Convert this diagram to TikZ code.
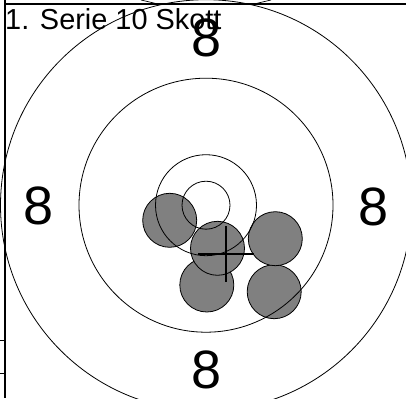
\documentclass[tikz,border=0pt]{standalone}
\usepackage{fontspec}
\setmainfont{Liberation Sans}
\begin{document}
\begin{tikzpicture}[x=1pt,y=-1pt,
  ring/.style={draw=black, line width=0.8pt},
  shot/.style={circle, fill=black!50, draw=black, line width=0.8pt, minimum size=54pt, inner sep=0pt},
  eightlabel/.style={font=\fontsize{54}{54}\selectfont, inner sep=0pt, anchor=base},
  frameline/.style={draw=black, line width=1.6pt},
  hitcross/.style={draw=black, line width=2.3pt},
  thin/.style={draw=black, line width=0.7pt}]
\useasboundingbox (0,0) rectangle (406,398);
\clip (0,0) rectangle (406,398);
\fill[white] (0,0) rectangle (406,398);
\coordinate (c) at (206,205.2);
% title
\node[font=\fontsize{28.9}{29}\selectfont, inner sep=0pt, anchor=base west] (title) at (5,30) {1. Serie 10 Skott};
% shots
\node[shot] (s1) at (169.7,220.3) {};
\node[shot] (s4) at (206.8,285.0) {};
\node[shot] (s5) at (274.2,291.7) {};
\node[shot] (s2) at (217.5,248.3) {};
\node[shot] (s3) at (275.3,238.7) {};
% rings
\draw[ring] (c) circle [radius=24pt];
\draw[ring] (c) circle [radius=50.5pt];
\draw[ring] (c) circle [radius=127pt];
\draw[ring] (c) circle [radius=205.5pt];
% ring labels
\node[eightlabel] (l8top) at (206.5,57) {8};
\node[eightlabel] (l8left) at (39,224) {8};
\node[eightlabel] (l8right) at (373.3,225) {8};
\node[eightlabel] (l8bottom) at (206.7,388) {8};
% mean point cross
\coordinate (mp) at (226,254);
\draw[hitcross] ([xshift=-28pt]mp) -- ([xshift=28pt]mp);
\draw[hitcross] ([yshift=28pt]mp) -- ([yshift=-28pt]mp);
% frame lines
\draw[frameline] (4,4) -- (406,4);
\draw[frameline] (5,0) -- (5,398);
\draw[thin] (0,340) -- (5,340);
\draw[thin] (0,373.3) -- (5,373.3);
\draw[thin] (141,0) -- (160,4.5);
\draw[thin] (252,4.5) -- (271,0);
\end{tikzpicture}
\end{document}
